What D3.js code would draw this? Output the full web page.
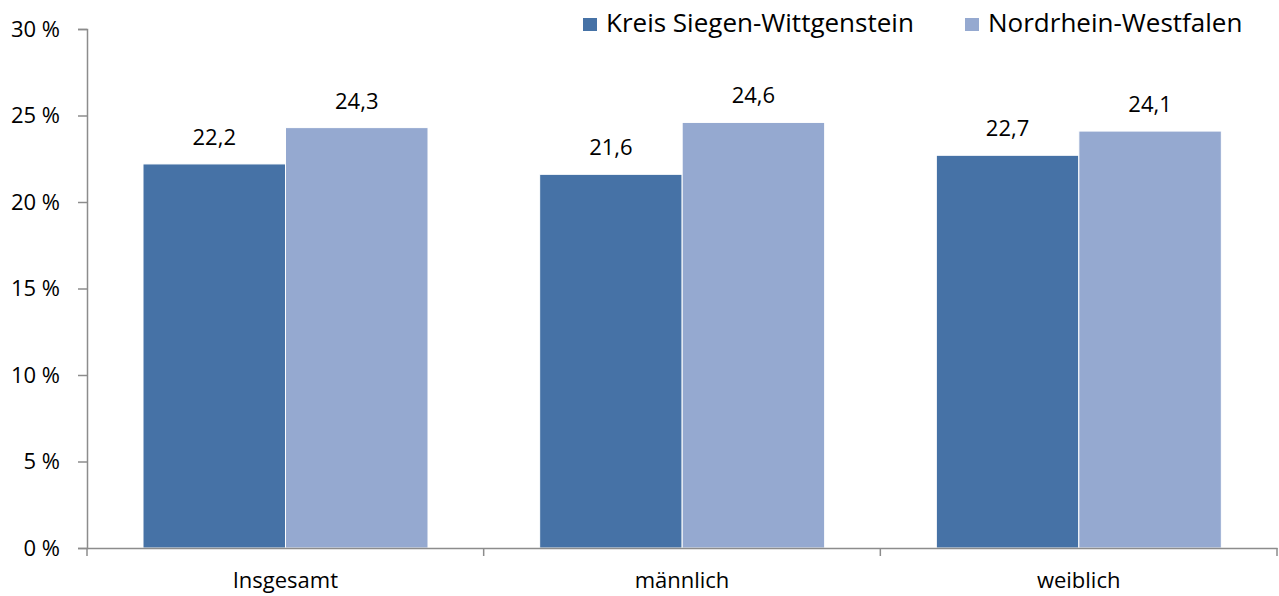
<!DOCTYPE html>
<html>
<head>
<meta charset="utf-8">
<script src="https://d3js.org/d3.v7.min.js"></script>
<style>
  body { margin: 0; background: #fff; }
  text { font-family: 'Open Sans', sans-serif; fill: #000; }
</style>
</head>
<body>
<svg id="chart" width="1279" height="596"></svg>
<script>
  'use strict';

  var categories = ["Insgesamt", "männlich", "weiblich"];
  var seriesNames = ["Kreis Siegen-Wittgenstein", "Nordrhein-Westfalen"];
  var kreis = [22.2, 21.6, 22.7];
  var nrw = [24.3, 24.6, 24.1];
  var yTicks = [0, 5, 10, 15, 20, 25, 30];
  var colors = ["#4672A6", "#95A9D0"];

  (function() {
    var svg = d3.select("#chart");
    var plotLeft = 87, plotRight = 1277, plotTop = 29, plotBottom = 548;

    var x0 = d3.scaleBand().domain(categories).range([plotLeft, plotRight]);
    var x1 = d3.scaleBand().domain([0, 1]).range([56, 341]);
    var y = d3.scaleLinear().domain([0, 30]).range([plotBottom, plotTop]);

    var rows = categories.map(function(c, i) { return { cat: c, vals: [kreis[i], nrw[i]] }; });

    var groups = svg.selectAll("g.cat").data(rows).enter().append("g")
      .attr("class", "cat")
      .attr("transform", function(d) { return "translate(" + x0(d.cat) + ",0)"; });

    groups.selectAll("rect").data(function(d) { return d.vals; }).enter().append("rect")
      .attr("x", function(d, i) { return x1(i); })
      .attr("y", function(d) { return y(d); })
      .attr("width", x1.bandwidth())
      .attr("height", function(d) { return plotBottom - y(d); })
      .attr("fill", function(d, i) { return colors[i]; })
      .attr("stroke", "#fff")
      .attr("stroke-width", 1);

    groups.selectAll("text.val").data(function(d) { return d.vals; }).enter().append("text")
      .attr("class", "val")
      .attr("x", function(d, i) { return x1(i) + x1.bandwidth() / 2; })
      .attr("y", function(d) { return y(d) - 19; })
      .attr("text-anchor", "middle")
      .style("font-size", "22px")
      .text(function(d) { return d3.format(".1f")(d).replace(".", ","); });

    // y axis
    var yAxis = svg.append("g").attr("transform", "translate(" + plotLeft + ",0)")
      .call(d3.axisLeft(y).tickValues(yTicks).tickSize(9).tickPadding(18)
        .tickFormat(function(d) { return d + " %"; }));
    yAxis.select(".domain").attr("stroke", "#8c8c8c").attr("stroke-width", 1.5);
    yAxis.selectAll(".tick line").attr("stroke", "#8c8c8c").attr("stroke-width", 1.5);
    yAxis.selectAll(".tick text").style("font-size", "22px").attr("fill", "#000");

    // x axis
    var xAxis = svg.append("g").attr("transform", "translate(0," + plotBottom + ")")
      .call(d3.axisBottom(x0).tickSize(0));
    xAxis.select(".domain").attr("stroke", "#8c8c8c").attr("stroke-width", 1.5);
    xAxis.selectAll(".tick text").style("font-size", "22px").attr("fill", "#000")
      .attr("y", 40).attr("dy", 0);
    svg.append("g").selectAll("line").data(categories.concat(["end"])).enter().append("line")
      .attr("x1", function(d, i) { return i < categories.length ? x0(d) : plotRight; })
      .attr("x2", function(d, i) { return i < categories.length ? x0(d) : plotRight; })
      .attr("y1", plotBottom).attr("y2", plotBottom + 8)
      .attr("stroke", "#8c8c8c").attr("stroke-width", 1.5);

    // legend
    var legendX = [583, 965];
    var legend = svg.append("g").selectAll("g").data(seriesNames).enter().append("g")
      .attr("transform", function(d, i) { return "translate(" + legendX[i] + ",18)"; });
    legend.append("rect").attr("width", 14).attr("height", 13)
      .attr("fill", function(d, i) { return colors[i]; });
    legend.append("text").attr("x", 23).attr("y", 14)
      .style("font-size", "26px")
      .text(function(d) { return d; });
  })();
</script>
</body>
</html>
